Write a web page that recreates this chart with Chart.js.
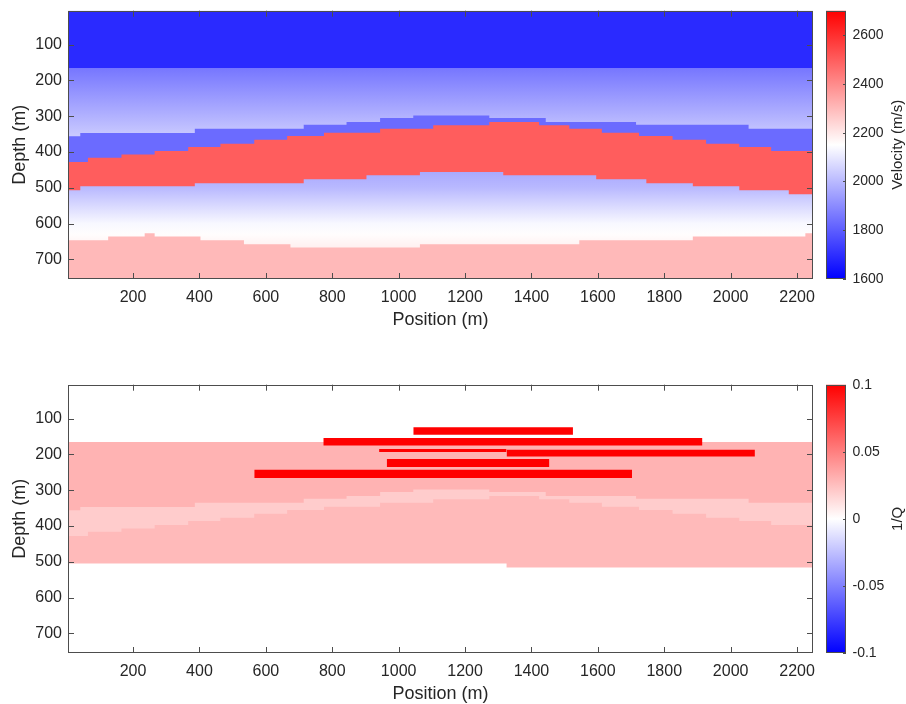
<!DOCTYPE html>
<html>
<head>
<meta charset="utf-8">
<script src="https://cdn.jsdelivr.net/npm/chart.js@4.4.1/dist/chart.umd.min.js"></script>
<style>
html,body{margin:0;padding:0;background:#fff;overflow:hidden;width:906px;height:704px}
canvas{position:absolute}
</style>
</head>
<body>
<canvas id="velMain" width="830" height="340" style="left:0px;top:0px"></canvas>
<canvas id="velBar" width="86" height="340" style="left:820px;top:0px"></canvas>
<canvas id="qMain" width="830" height="340" style="left:0px;top:374px"></canvas>
<canvas id="qBar" width="86" height="340" style="left:820px;top:374px"></canvas>
<script>
// ---------------- data ----------------
const xRange = [4, 2248];            // position (m)
const depthRange = [5, 755];         // depth (m)
const xTicks = [200, 400, 600, 800, 1000, 1200, 1400, 1600, 1800, 2000, 2200];
const depthTicks = [100, 200, 300, 400, 500, 600, 700];
const velRange = [1600, 2700];
const velTicks = [1600, 1800, 2000, 2200, 2400, 2600];
const qRange = [-0.1, 0.1];
const qTicks = [-0.1, -0.05, 0, 0.05, 0.1];

// layer boundaries: step start positions (m) and depths (m)
const topLayerX = [0];      const topLayerDepth = [0];
const gradTopX = [0];       const gradTopDepth = [165];
const bandTopX = [0, 41, 386, 714, 843, 944, 1044, 1273, 1443, 1715, 2054];
const bandTopDepth = [356, 347, 335, 324, 316, 305, 298, 305, 316, 324, 335];
const redTopX = [0, 64, 165, 265, 366, 463, 565, 664, 775, 944, 1104, 1273, 1423, 1514, 1612, 1724, 1825, 1926, 2026, 2122];
const redTopDepth = [428, 416, 407, 397, 386, 377, 366, 355, 346, 335, 325, 316, 325, 335, 346, 355, 366, 377, 386, 397];
const redBaseX = [0, 41, 386, 714, 903, 1064, 1315, 1595, 1746, 1886, 2026, 2175];
const redBaseDepth = [507, 496, 487, 476, 465, 456, 465, 476, 487, 496, 507, 518];
const deepTopX = [0, 125, 235, 265, 403, 534, 674, 1064, 1544, 1886, 2225];
const deepTopDepth = [647, 636, 627, 636, 647, 658, 667, 658, 647, 636, 627];
const qBaseX = [0, 1325];   const qBaseDepth = [505, 516];

// velocities (m/s)
const velTopLayer = 1690;
const velBand = 1830;
const velRed = 2500;
const velDeep = 2300;
const upperGradDepth = [165, 360];
const upperGradVel = [1855, 2040];
const lowerGradDepth = [455, 500, 560, 600, 630, 670, 760];
const lowerGradVel = [1965, 2000, 2080, 2135, 2155, 2185, 2250];

// 1/Q
const qUpper = 0.03;
const qBand = 0.02;
const qLower = 0.027;
const qBelow = 0;
const barStartX = [1044, 773, 941, 1325, 964, 565];
const barEndX = [1525, 1915, 1325, 2073, 1454, 1703];
const barTopDepth = [124, 154, 185, 187, 213, 243];
const barBaseDepth = [145, 175, 193, 206, 235, 266];
const barQ = [0.1, 0.1, 0.1, 0.1, 0.1, 0.1];

// ---------------- helpers ----------------
const TEXT = '#262626';
const FRAME = '#4d4d4d';
Chart.defaults.font.family = '"Liberation Sans", Arial, Helvetica, sans-serif';
Chart.defaults.color = TEXT;

function divColor(t) {
  t = Math.max(-1, Math.min(1, t));
  if (t >= 0) { const c = Math.round(255 * (1 - t)); return `rgb(255,${c},${c})`; }
  const c = Math.round(255 * (1 + t)); return `rgb(${c},${c},255)`;
}
const velColor = v => divColor((v - (velRange[0] + velRange[1]) / 2) / ((velRange[1] - velRange[0]) / 2));
const qColor = q => divColor((q - (qRange[0] + qRange[1]) / 2) / ((qRange[1] - qRange[0]) / 2));

function stepPoints(xs, ds) {
  const pts = xs.map((x, i) => ({x, y: ds[i]}));
  pts.push({x: xRange[1] + 20, y: ds[ds.length - 1]});
  return pts;
}
function depthGradient(chart, depths, values, colorFn) {
  if (!chart.chartArea) return colorFn(values[0]);
  const y = chart.scales.y;
  const p0 = y.getPixelForValue(depths[0]);
  const p1 = y.getPixelForValue(depths[depths.length - 1]);
  const g = chart.ctx.createLinearGradient(0, p0, 0, p1);
  depths.forEach((d, i) => g.addColorStop((y.getPixelForValue(d) - p0) / (p1 - p0), colorFn(values[i])));
  return g;
}
function layer(points, color) {
  return {data: points, stepped: 'before', fill: 'start', backgroundColor: color,
          borderWidth: 0, pointRadius: 0, pointHoverRadius: 0};
}

function makeFrame(opts) {
  return {
    id: 'frame',
    afterDatasetsDraw(chart) {
      const {ctx, chartArea: a} = chart;
      ctx.save();
      ctx.strokeStyle = FRAME;
      ctx.lineWidth = 1;
      ctx.beginPath();
      const L = opts.len;
      if (opts.x) {
        const sx = chart.scales.x;
        sx.ticks.forEach(t => {
          const px = Math.round(sx.getPixelForValue(t.value)) + 0.5;
          ctx.moveTo(px, a.bottom); ctx.lineTo(px, a.bottom - L);
          ctx.moveTo(px, a.top); ctx.lineTo(px, a.top + L);
        });
      }
      const sy = chart.scales.y;
      sy.ticks.forEach(t => {
        const py = Math.round(sy.getPixelForValue(t.value)) + 0.5;
        if (opts.left) { ctx.moveTo(a.left, py); ctx.lineTo(a.left + L, py); }
        ctx.moveTo(a.right, py); ctx.lineTo(a.right - L, py);
      });
      ctx.stroke();
      ctx.strokeRect(Math.round(a.left) + 0.5, Math.round(a.top) + 0.5,
                     Math.round(a.right) - Math.round(a.left) - 1, Math.round(a.bottom) - Math.round(a.top) - 1);
      ctx.restore();
    }
  };
}

function mainConfig(datasets) {
  return {
    type: 'line',
    data: {datasets},
    options: {
      responsive: false, animation: false, events: [], devicePixelRatio: 1,
      layout: {padding: {top: 10.7, right: 17, bottom: 0, left: 0}},
      plugins: {legend: {display: false}, tooltip: {enabled: false}},
      scales: {
        x: {
          type: 'linear', min: xRange[0], max: xRange[1],
          afterBuildTicks: s => { s.ticks = xTicks.map(v => ({value: v})); },
          afterFit: s => { s.height = 61; s.paddingLeft = 0; s.paddingRight = 0; },
          grid: {display: false, drawTicks: false}, border: {display: false},
          ticks: {padding: 9, color: TEXT, font: {size: 16}, autoSkip: false, maxRotation: 0, callback: v => String(v)},
          title: {display: true, text: 'Position (m)', color: TEXT, font: {size: 18}, padding: {top: 0, bottom: 9.5}}
        },
        y: {
          type: 'linear', reverse: true, min: depthRange[0], max: depthRange[1],
          afterBuildTicks: s => { s.ticks = depthTicks.map(v => ({value: v})); },
          afterFit: s => { s.width = 68; s.paddingTop = 0; s.paddingBottom = 0; },
          grid: {display: false, drawTicks: false}, border: {display: false},
          ticks: {padding: 6, color: TEXT, font: {size: 16}, autoSkip: false, callback: v => String(v)},
          title: {display: true, text: 'Depth (m)', color: TEXT, font: {size: 18}, padding: {top: 9.2, bottom: 0}}
        }
      }
    },
    plugins: [makeFrame({x: true, left: true, len: 6})]
  };
}

function colorbarConfig(range, ticks, colorFn, title) {
  return {
    type: 'bar',
    data: {labels: [''], datasets: [{
      data: [[range[0], range[1]]],
      backgroundColor: c => {
        const ch = c.chart;
        if (!ch.chartArea) return '#fff';
        const y = ch.scales.y;
        const p0 = y.getPixelForValue(range[0]), p1 = y.getPixelForValue(range[1]);
        const g = ch.ctx.createLinearGradient(0, p0, 0, p1);
        [0, 0.5, 1].forEach(t => g.addColorStop(t, colorFn(range[0] + t * (range[1] - range[0]))));
        return g;
      },
      borderWidth: 0, barPercentage: 1, categoryPercentage: 1
    }]},
    options: {
      responsive: false, animation: false, events: [], devicePixelRatio: 1,
      layout: {padding: {top: 10.7, right: 0, bottom: 61, left: 6}},
      plugins: {legend: {display: false}, tooltip: {enabled: false}},
      scales: {
        x: {display: false},
        y: {
          position: 'right', min: range[0], max: range[1],
          afterBuildTicks: s => { s.ticks = ticks.map(v => ({value: v})); },
          afterFit: s => { s.width = 60; s.paddingTop = 0; s.paddingBottom = 0; },
          grid: {display: false, drawTicks: false}, border: {display: false},
          ticks: {padding: 6.5, color: TEXT, font: {size: 14}, autoSkip: false, callback: v => String(v)}
        }
      }
    },
    plugins: [makeFrame({x: false, left: false, len: 3}), {
      id: 'cbTitle',
      afterDraw(chart) {
        const {ctx, chartArea: a} = chart;
        const s = chart.scales.y;
        ctx.save();
        ctx.fillStyle = TEXT;
        ctx.font = '15px "Liberation Sans", Arial, Helvetica, sans-serif';
        ctx.textAlign = 'center';
        ctx.textBaseline = 'middle';
        ctx.translate(s.right - 8, (a.top + a.bottom) / 2);
        ctx.rotate(-Math.PI / 2);
        ctx.fillText(title, 0, 0);
        ctx.restore();
      }
    }]
  };
}

// ---------------- velocity panel ----------------
const velDatasets = [
  layer(stepPoints(deepTopX, deepTopDepth), velColor(velDeep)),
  layer(stepPoints(redBaseX, redBaseDepth), c => depthGradient(c.chart, lowerGradDepth, lowerGradVel, velColor)),
  layer(stepPoints(redTopX, redTopDepth), velColor(velRed)),
  layer(stepPoints(bandTopX, bandTopDepth), velColor(velBand)),
  layer(stepPoints(gradTopX, gradTopDepth), c => depthGradient(c.chart, upperGradDepth, upperGradVel, velColor)),
  layer(stepPoints(topLayerX, topLayerDepth), velColor(velTopLayer))
];
new Chart(document.getElementById('velMain'), mainConfig(velDatasets));
new Chart(document.getElementById('velBar'), colorbarConfig(velRange, velTicks, velColor, 'Velocity (m/s)'));

// ---------------- 1/Q panel ----------------
const qDatasets = barStartX.map((x0, i) => ({
  data: [{x: x0, y: barTopDepth[i]}, {x: barEndX[i], y: barTopDepth[i]}],
  fill: {value: barBaseDepth[i]}, backgroundColor: qColor(barQ[i]),
  borderWidth: 0, pointRadius: 0, pointHoverRadius: 0
}));
qDatasets.push(
  layer(stepPoints(qBaseX, qBaseDepth), qColor(qBelow)),
  layer(stepPoints(redTopX, redTopDepth), qColor(qLower)),
  layer(stepPoints(bandTopX, bandTopDepth), qColor(qBand)),
  layer(stepPoints(gradTopX, gradTopDepth), qColor(qUpper))
);
new Chart(document.getElementById('qMain'), mainConfig(qDatasets));
new Chart(document.getElementById('qBar'), colorbarConfig(qRange, qTicks, qColor, '1/Q'));
</script>
</body>
</html>
